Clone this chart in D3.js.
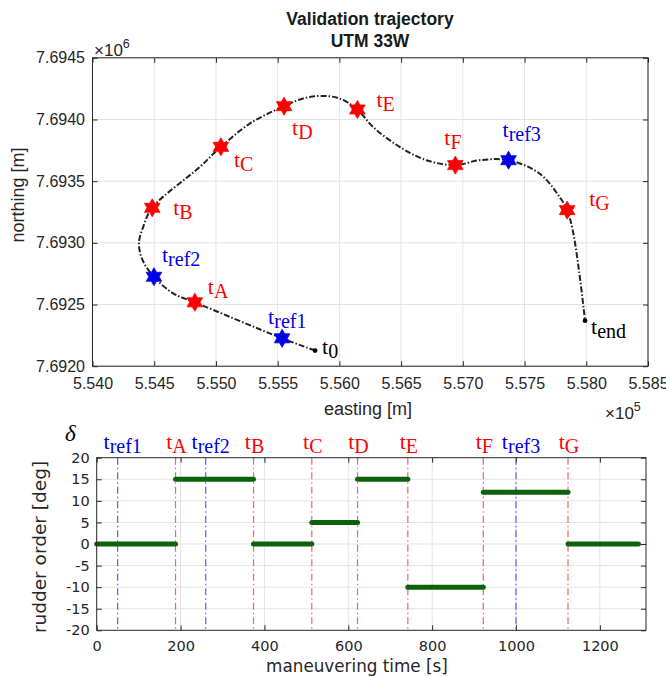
<!DOCTYPE html>
<html><head><meta charset="utf-8">
<script src="https://cdn.jsdelivr.net/npm/d3@7"></script>
<style>body{margin:0;background:#fff} svg{display:block}</style>
</head><body>
<svg id="c" width="666" height="677"></svg>
<script>
// ================= DATA =================
// Trajectory (UTM 33W), ordered from t0 to t_end
const trajEasting  = [555803,555536,554829,554654,554498,554406,554376,554411,554484,554870,555040,555275,555552,555706,555854,556002,556146,556272,556488,556704,556939,557135,557370,557621,557783,557845,557890,557944,557990];
const trajNorthing = [7692127,7692226,7692518,7692590,7692725,7692860,7692995,7693130,7693284,7693616,7693778,7693967,7694108,7694170,7694191,7694170,7694081,7693940,7693778,7693670,7693630,7693670,7693670,7693562,7693373,7693265,7693103,7692752,7692369];

// Star markers on trajectory
const markerNames    = ["ref1","A","ref2","B","C","D","E","F","ref3","G"];
const markerEasting  = [555536,554829,554498,554484,555040,555552,556146,556939,557370,557845];
const markerNorthing = [7692226,7692518,7692725,7693284,7693778,7694108,7694081,7693630,7693670,7693265];
// End points
const endNames    = ["0","end"];
const endEasting  = [555803,557990];
const endNorthing = [7692127,7692369];

// Axis ticks (top)
const eastTicks  = [554000,554500,555000,555500,556000,556500,557000,557500,558000,558500];
const eastTickLabels = ["5.540","5.545","5.550","5.555","5.560","5.565","5.570","5.575","5.580","5.585"];
const northTicks = [7692000,7692500,7693000,7693500,7694000,7694500];
const northTickLabels = ["7.6920","7.6925","7.6930","7.6935","7.6940","7.6945"];

// Rudder order (bottom)
const rudderStart = [0,188,374,513,622,742,922,1124];
const rudderEnd   = [188,374,513,622,742,922,1124,1292];
const rudderOrder = [0,15,0,5,15,-10,12,0];
const eventNames  = ["ref1","A","ref2","B","C","D","E","F","ref3","G"];
const eventTimes  = [50,188,260,374,513,622,742,922,1000,1124];
const timeTicks   = [0,200,400,600,800,1000,1200];
const timeTickLabels = ["0","200","400","600","800","1000","1200"];
const rudderTicks = [-20,-15,-10,-5,0,5,10,15,20];
const rudderTickLabels = ["-20","-15","-10","-5","0","5","10","15","20"];

// ================= LAYOUT / STYLE =================
const RED = "#ff0000", BLUE = "#0000e6";
const isRef = n => n.startsWith("ref");
// label offsets (px) relative to marker: [dx, dy]
const markerLabelOffset = {ref1:[-14,-14],A:[13,-8],ref2:[8,-15],B:[21,7],C:[13,20],D:[8,29],E:[19,-2],F:[-11,-20],ref3:[-6,-23],G:[22,-4]};
const endLabelOffset = {"0":[7,3],"end":[6,13]};

const svg = d3.select("#c");
const axCol = "#262626";

// ---------- TOP PLOT ----------
const T = {l:92.5, t:57.8, r:648, b:366.2};
const xS = d3.scaleLinear().domain([554000,558500]).range([T.l,T.r]);
const yS = d3.scaleLinear().domain([7692000,7694500]).range([T.b,T.t]);
const topG = svg.append("g");

// grid
topG.append("g").selectAll("line").data(eastTicks).join("line")
  .attr("x1",d=>xS(d)).attr("x2",d=>xS(d)).attr("y1",T.t).attr("y2",T.b)
  .attr("stroke","#e3e3e3").attr("stroke-width",1);
topG.append("g").selectAll("line").data(northTicks).join("line")
  .attr("y1",d=>yS(d)).attr("y2",d=>yS(d)).attr("x1",T.l).attr("x2",T.r)
  .attr("stroke","#e3e3e3").attr("stroke-width",1);

function styleAxis(g, font, size){
  g.select(".domain").remove();
  g.selectAll(".tick line").attr("stroke",axCol);
  g.selectAll(".tick text").attr("fill",axCol).attr("font-family",font).attr("font-size",size);
}
const xAx = topG.append("g").attr("transform",`translate(0,${T.b})`)
  .call(d3.axisBottom(xS).tickValues(eastTicks).tickFormat((d,i)=>eastTickLabels[i]).tickSizeInner(-5).tickSizeOuter(0).tickPadding(11));
styleAxis(xAx,"Liberation Sans, Arial, sans-serif",16);
const xAxT = topG.append("g").attr("transform",`translate(0,${T.t})`)
  .call(d3.axisTop(xS).tickValues(eastTicks).tickFormat("").tickSizeInner(-5).tickSizeOuter(0));
styleAxis(xAxT,"Liberation Sans",16);
const yAx = topG.append("g").attr("transform",`translate(${T.l},0)`)
  .call(d3.axisLeft(yS).tickValues(northTicks).tickFormat((d,i)=>northTickLabels[i]).tickSizeInner(-5).tickSizeOuter(0).tickPadding(7.5));
styleAxis(yAx,"Liberation Sans, Arial, sans-serif",16);
const yAxR = topG.append("g").attr("transform",`translate(${T.r},0)`)
  .call(d3.axisRight(yS).tickValues(northTicks).tickFormat("").tickSizeInner(-5).tickSizeOuter(0));
styleAxis(yAxR,"Liberation Sans",16);
topG.append("rect").attr("x",T.l).attr("y",T.t).attr("width",T.r-T.l).attr("height",T.b-T.t)
  .attr("fill","none").attr("stroke",axCol).attr("stroke-width",1);

// trajectory
const traj = trajEasting.map((e,i)=>[e,trajNorthing[i]]);
const line = d3.line().x(d=>xS(d[0])).y(d=>yS(d[1])).curve(d3.curveCatmullRom.alpha(0.5));
topG.append("path").attr("d",line(traj)).attr("fill","none")
  .attr("stroke","#222").attr("stroke-width",2).attr("stroke-dasharray","6,2,1.5,2");

// end dots
endNames.forEach((n,i)=>{
  topG.append("circle").attr("cx",xS(endEasting[i])).attr("cy",yS(endNorthing[i])).attr("r",2.4).attr("fill","#000");
});

// hexagram
function hexagram(R){
  const r = R/Math.sqrt(3), pts=[];
  for(let k=0;k<12;k++){
    const a = -Math.PI/2 + k*Math.PI/6, rr = k%2===0?R:r;
    pts.push([rr*Math.cos(a), rr*Math.sin(a)]);
  }
  return "M"+pts.map(p=>p[0].toFixed(2)+","+p[1].toFixed(2)).join("L")+"Z";
}
const starPath = hexagram(9);
markerNames.forEach((n,i)=>{
  const c = isRef(n)?BLUE:RED;
  topG.append("path").attr("d",starPath)
    .attr("transform",`translate(${xS(markerEasting[i])},${yS(markerNorthing[i])})`)
    .attr("fill",c).attr("stroke",c).attr("stroke-width",0.8);
});

function tLabel(g, x, y, sub, color, anchor){
  const t = g.append("text").attr("x",x).attr("y",y).attr("fill",color)
    .attr("font-family","Liberation Serif, Times New Roman, serif").attr("font-size",22)
    .attr("text-anchor",anchor||"start");
  t.append("tspan").text("t");
  t.append("tspan").attr("dy",4).attr("font-size",20).text(sub);
  return t;
}
markerNames.forEach((n,i)=>{
  const o = markerLabelOffset[n];
  tLabel(topG, xS(markerEasting[i])+o[0], yS(markerNorthing[i])+o[1], n, isRef(n)?BLUE:RED);
});
endNames.forEach((n,i)=>{
  const o = endLabelOffset[n];
  tLabel(topG, xS(endEasting[i])+o[0], yS(endNorthing[i])+o[1], n, "#000");
});

// titles & labels
const sansT = "Liberation Sans, Arial, sans-serif";
svg.append("text").attr("x",370).attr("y",25).attr("text-anchor","middle").attr("font-family",sansT)
  .attr("font-weight","bold").attr("font-size",17.5).attr("fill","#1a1a1a").text("Validation trajectory");
svg.append("text").attr("x",370).attr("y",47).attr("text-anchor","middle").attr("font-family",sansT)
  .attr("font-weight","bold").attr("font-size",17.5).attr("fill","#1a1a1a").text("UTM 33W");
svg.append("text").attr("x",368).attr("y",415).attr("text-anchor","middle").attr("font-family",sansT)
  .attr("font-size",18).attr("fill",axCol).text("easting [m]");
svg.append("text").attr("transform","translate(24,195) rotate(-90)").attr("text-anchor","middle").attr("font-family",sansT)
  .attr("font-size",18).attr("fill",axCol).text("northing [m]");
function times10(x,y,exp){
  const t = svg.append("text").attr("x",x).attr("y",y).attr("font-family",sansT).attr("font-size",17).attr("fill",axCol);
  t.append("tspan").text("\u00d710");
  t.append("tspan").attr("dy",-8).attr("font-size",12.5).text(exp);
}
times10(94,56,"6");
times10(605,419,"5");

// ---------- BOTTOM PLOT ----------
const B = {l:96.7, t:457.7, r:646, b:630.3};
const tS = d3.scaleLinear().domain([0,1310]).range([B.l,B.r]);
const dS = d3.scaleLinear().domain([-20,20]).range([B.b,B.t]);
const bot = svg.append("g");
const sansB = "DejaVu Sans, Verdana, sans-serif";

bot.append("g").selectAll("line").data(timeTicks.slice(1)).join("line")
  .attr("x1",d=>tS(d)).attr("x2",d=>tS(d)).attr("y1",B.t).attr("y2",B.b)
  .attr("stroke","#e3e3e3");
bot.append("g").selectAll("line").data(rudderTicks.slice(1,-1)).join("line")
  .attr("y1",d=>dS(d)).attr("y2",d=>dS(d)).attr("x1",B.l).attr("x2",B.r)
  .attr("stroke","#e3e3e3");

const tAx = bot.append("g").attr("transform",`translate(0,${B.b})`)
  .call(d3.axisBottom(tS).tickValues(timeTicks).tickFormat((d,i)=>timeTickLabels[i]).tickSizeInner(-5).tickSizeOuter(0).tickPadding(10.5));
styleAxis(tAx,sansB,14.5);
const tAxT = bot.append("g").attr("transform",`translate(0,${B.t})`)
  .call(d3.axisTop(tS).tickValues(timeTicks).tickFormat("").tickSizeInner(-5).tickSizeOuter(0));
styleAxis(tAxT,sansB,14.5);
const dAx = bot.append("g").attr("transform",`translate(${B.l},0)`)
  .call(d3.axisLeft(dS).tickValues(rudderTicks).tickFormat((d,i)=>rudderTickLabels[i]).tickSizeInner(-5).tickSizeOuter(0).tickPadding(7));
styleAxis(dAx,sansB,14.5);
const dAxR = bot.append("g").attr("transform",`translate(${B.r},0)`)
  .call(d3.axisRight(dS).tickValues(rudderTicks).tickFormat("").tickSizeInner(-5).tickSizeOuter(0));
styleAxis(dAxR,sansB,14.5);

// event vertical lines
eventNames.forEach((n,i)=>{
  const c = isRef(n)?"#5a5aff":"#ff6060";
  bot.append("line").attr("x1",tS(eventTimes[i])).attr("x2",tS(eventTimes[i]))
    .attr("y1",B.t).attr("y2",B.b).attr("stroke",c).attr("stroke-width",1.2)
    .attr("stroke-dasharray","7,3,1.5,3");
});
// rudder segments
rudderOrder.forEach((v,i)=>{
  bot.append("line").attr("x1",tS(rudderStart[i])).attr("x2",tS(rudderEnd[i]))
    .attr("y1",dS(v)).attr("y2",dS(v)).attr("stroke","#0b620b").attr("stroke-width",5)
    .attr("stroke-linecap","round");
});
bot.append("rect").attr("x",B.l).attr("y",B.t).attr("width",B.r-B.l).attr("height",B.b-B.t)
  .attr("fill","none").attr("stroke",axCol);

// event labels
eventNames.forEach((n,i)=>{
  const dx = isRef(n)?5:1;
  tLabel(bot, tS(eventTimes[i])+dx, 449, n, isRef(n)?BLUE:RED, "middle");
});
svg.append("text").attr("x",65).attr("y",441).attr("font-family","Liberation Serif, serif").attr("font-style","italic")
  .attr("font-size",23).attr("fill","#000").text("\u03b4");
svg.append("text").attr("x",357).attr("y",672).attr("text-anchor","middle").attr("font-family",sansB)
  .attr("font-size",16.8).attr("fill",axCol).text("maneuvering time [s]");
svg.append("text").attr("transform","translate(46,547) rotate(-90)").attr("text-anchor","middle").attr("font-family",sansB)
  .attr("font-size",18.5).attr("fill",axCol).text("rudder order [deg]");
</script>
</body></html>
